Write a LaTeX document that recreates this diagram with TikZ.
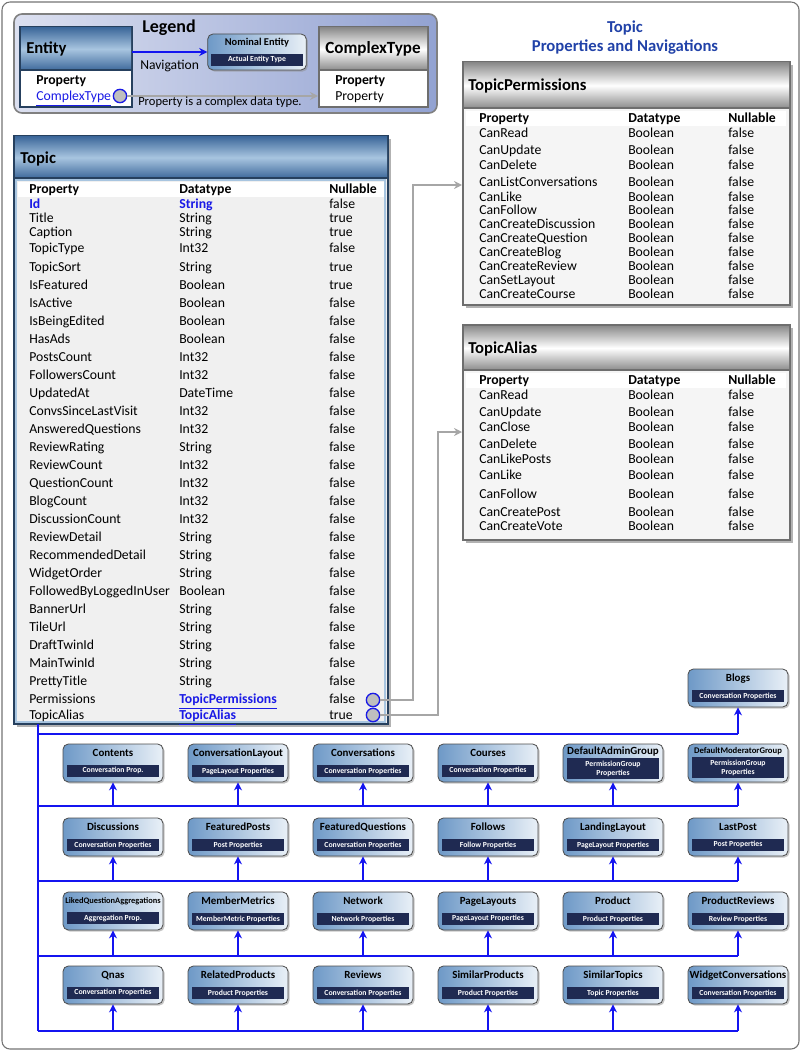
\documentclass[tikz,border=0pt]{standalone}
\usepackage{fontspec}
\setmainfont{Carlito}
\usetikzlibrary{arrows.meta,shadows}

\definecolor{hdrdark}{HTML}{3F6A9C}
\definecolor{hdrlight}{HTML}{A8C5E0}
\definecolor{navy}{HTML}{1F2A52}
\definecolor{boxleft}{HTML}{6E99C7}
\definecolor{boxright}{HTML}{E9F0F7}
\definecolor{busblue}{HTML}{1414F0}
\definecolor{linkblue}{HTML}{1A1AE6}
\definecolor{titleblue}{HTML}{2142A8}
\definecolor{conngray}{HTML}{A6A6A6}
\definecolor{tblborder}{HTML}{6E6E6E}
\definecolor{legleft}{HTML}{DCE0F0}
\definecolor{legright}{HTML}{92A2D2}

% title plus dark type label of a navigation target
\newcommand{\navtext}[2]{{\bfseries\fontsize{8.2}{9.5}\selectfont #1}\\[1.2pt]%
  {\setlength{\fboxsep}{2pt}\colorbox{navy}{\parbox{65pt}{\centering\color{white}\bfseries\fontsize{5.8}{6.8}\selectfont #2}}}}

\begin{document}
\begin{tikzpicture}[x=0.75pt, y=-0.75pt,
  cell/.style={anchor=west, inner sep=0pt, text height=8.8pt, text depth=1.5pt,
    font=\fontsize{10.3}{11}\selectfont},
  headcell/.style={cell, font=\bfseries\fontsize{10.3}{11}\selectfont},
  link/.style={cell, font=\bfseries\fontsize{10.3}{11}\selectfont, text=linkblue},
  tblname/.style={anchor=west, inner sep=0pt, text height=10pt, text depth=1pt,
    font=\bfseries\fontsize{12.5}{14}\selectfont},
  tblline/.style={draw=tblborder, line width=1.2pt},
  blueshade/.style={top color=hdrdark, bottom color=hdrdark, middle color=hdrlight},
  grayshade/.style={top color=black!45, bottom color=black!45, middle color=white},
  navbox/.style={draw=black!70, line width=0.6pt, rounded corners=4pt,
    left color=boxleft, right color=boxright, minimum width=75pt,
    minimum height=28.5pt, inner sep=1pt, align=center,
    drop shadow={shadow xshift=1.2pt, shadow yshift=-1.2pt, fill=black!45}},
  bus/.style={draw=busblue, line width=2.2pt},
  navarrow/.style={draw=busblue, line width=1.6pt, -{Stealth[length=6pt, width=6pt]}},
  conn/.style={draw=conngray, line width=1.8pt, -{Stealth[length=6pt, width=6pt]}},
  anchorcirc/.style={circle, draw=linkblue, line width=1pt, fill=black!25,
    minimum size=10pt, inner sep=0pt}]
  \useasboundingbox (0,0) rectangle (802,1052);
  \draw[black!55, line width=0.8pt, rounded corners=6pt] (2,2) rectangle (799,1049);

  % Legend
  \draw[draw=black!50, line width=1.2pt, rounded corners=6pt, left color=legleft,
    right color=legright] (14,14) rectangle (437,113);
  \draw[draw=hdrdark!60!black, line width=1.2pt, fill=white] (20,27) rectangle (132,107);
  \shade[blueshade] (21,28) rectangle (131,70);
  \draw[draw=hdrdark!60!black, line width=0.8pt] (20,70) -- (132,70);
  \node[tblname] (entityname) at (26,48) {Entity};
  \node[headcell] (entityprop) at (36,80) {Property};
  \node[cell, text=linkblue] (entitylink) at (36,96) {\underline{ComplexType}};
  \node[anchorcirc] (entitycirc) at (120,96) {};
  \node[font=\bfseries\fontsize{13.5}{15}\selectfont] (legendtitle) at (169,28) {Legend};
  \node[navbox, minimum width=74pt, minimum height=27pt] (nominal) at (257,52)
    {\navtext{\fontsize{7.8}{8.5}\selectfont Nominal Entity}{Actual Entity Type}};
  \coordinate (entityeast) at (132,52);
  \draw[navarrow] (entityeast) -- (nominal.west)
    node[midway, below=2pt, font=\fontsize{10.2}{11}\selectfont] (navlabel) {Navigation};
  \draw[tblline, fill=white] (319,27) rectangle (428,107);
  \shade[grayshade] (320,28) rectangle (427,70);
  \draw[tblline, line width=0.8pt] (319,70) -- (428,70);
  \node[tblname, anchor=center, font=\bfseries\fontsize{12.8}{14}\selectfont] (cxname) at (373,48) {ComplexType};
  \node[headcell] (cxprop) at (335,80) {Property};
  \node[cell] (cxprop2) at (335,96) {Property};
  \coordinate (cxwest) at (318,96);
  \draw[conn] (entitycirc.east) -- (cxwest);
  \node[cell, font=\fontsize{9.4}{10}\selectfont] (cxnote) at (138,101) {Property is a complex data type.};

  % Title
  \node[font=\bfseries\fontsize{12.5}{14.25}\selectfont, text=titleblue, align=center]
    (title) at (625,38) {Topic\\Properties and Navigations};

  % Topic table
  \fill[black!30] (17,139) rectangle (391,727);
  \draw[draw=hdrdark!60!black, line width=1.2pt, fill=black!6] (14,136) rectangle (388,724);
  \shade[blueshade] (15,137) rectangle (387,178);
  \draw[draw=hdrdark!60!black, line width=0.8pt] (14,178) -- (388,178);
  \draw[hdrlight, line width=0.8pt] (16,180) rectangle (385,722);
  \fill[white] (18,182) rectangle (384,197);
  \node[tblname] (topicname) at (20,157) {Topic};
  \node[headcell] (tp-head) at (29,189) {Property};
  \node[headcell] (td-head) at (179,189) {Datatype};
  \node[headcell] (tn-head) at (329,189) {Nullable};
  \node[link] (tp-id) at (29,204) {Id};
  \node[link] (td-id) at (179,204) {String};
  \node[cell] (tn-id) at (329,204) {false};
  \foreach \y/\pr/\dt/\nl in {218/Title/String/true, 232/Caption/String/true,
    248/TopicType/Int32/false, 267/TopicSort/String/true, 285/IsFeatured/Boolean/true,
    303/IsActive/Boolean/false, 321/IsBeingEdited/Boolean/false, 339/HasAds/Boolean/false,
    357/PostsCount/Int32/false, 375/FollowersCount/Int32/false, 393/UpdatedAt/DateTime/false,
    411/ConvsSinceLastVisit/Int32/false, 429/AnsweredQuestions/Int32/false,
    447/ReviewRating/String/false, 465/ReviewCount/Int32/false, 483/QuestionCount/Int32/false,
    501/BlogCount/Int32/false, 519/DiscussionCount/Int32/false, 537/ReviewDetail/String/false,
    555/RecommendedDetail/String/false, 573/WidgetOrder/String/false,
    591/FollowedByLoggedInUser/Boolean/false, 609/BannerUrl/String/false,
    627/TileUrl/String/false, 645/DraftTwinId/String/false, 663/MainTwinId/String/false,
    681/PrettyTitle/String/false}
  {
    \node[cell] (tp-\y) at (29,\y) {\pr};
    \node[cell] (td-\y) at (179,\y) {\dt};
    \node[cell] (tn-\y) at (329,\y) {\nl};
  }
  \node[cell] (tp-perm) at (29,699) {Permissions};
  \node[link] (td-perm) at (179,699) {\underline{TopicPermissions}};
  \node[cell] (tn-perm) at (329,699) {false};
  \node[anchorcirc] (permcirc) at (373,700) {};
  \node[cell] (tp-alias) at (29,715) {TopicAlias};
  \node[link] (td-alias) at (179,715) {\underline{TopicAlias}};
  \node[cell] (tn-alias) at (329,715) {true};
  \node[anchorcirc] (aliascirc) at (373,715) {};

  % TopicPermissions table
  \fill[black!30] (466,65) rectangle (793,308);
  \draw[tblline, fill=black!4] (463,62) rectangle (790,305);
  \shade[grayshade] (464,63) rectangle (789,108);
  \draw[tblline, line width=0.8pt] (463,108) -- (790,108);
  \fill[white] (466,111) rectangle (786,126);
  \node[tblname] (permname) at (468,85) {TopicPermissions};
  \node[headcell] (pp-head) at (479,118) {Property};
  \node[headcell] (pd-head) at (628,118) {Datatype};
  \node[headcell] (pn-head) at (728,118) {Nullable};
  \foreach \y/\pr in {133/CanRead, 150/CanUpdate, 165/CanDelete, 182/CanListConversations,
    197/CanLike, 210/CanFollow, 224/CanCreateDiscussion, 238/CanCreateQuestion,
    252/CanCreateBlog, 266/CanCreateReview, 280/CanSetLayout, 294/CanCreateCourse}
  {
    \node[cell] (pp-\y) at (479,\y) {\pr};
    \node[cell] (pd-\y) at (628,\y) {Boolean};
    \node[cell] (pn-\y) at (728,\y) {false};
  }

  % TopicAlias table
  \fill[black!30] (466,328) rectangle (793,543);
  \draw[tblline, fill=black!4] (463,325) rectangle (790,540);
  \shade[grayshade] (464,326) rectangle (789,370);
  \draw[tblline, line width=0.8pt] (463,370) -- (790,370);
  \fill[white] (466,373) rectangle (786,388);
  \node[tblname] (aliasname) at (468,347) {TopicAlias};
  \node[headcell] (ap-head) at (479,380) {Property};
  \node[headcell] (ad-head) at (628,380) {Datatype};
  \node[headcell] (an-head) at (728,380) {Nullable};
  \foreach \y/\pr in {395/CanRead, 412/CanUpdate, 427/CanClose, 444/CanDelete,
    459/CanLikePosts, 475/CanLike, 494/CanFollow, 512/CanCreatePost, 526/CanCreateVote}
  {
    \node[cell] (ap-\y) at (479,\y) {\pr};
    \node[cell] (ad-\y) at (628,\y) {Boolean};
    \node[cell] (an-\y) at (728,\y) {false};
  }

  % complex type links
  \coordinate (permbend) at (413,185);
  \coordinate (permin) at (462,185);
  \coordinate (aliasbend) at (438,432);
  \coordinate (aliasin) at (462,432);
  \draw[conn] (permcirc.east) -| (permbend) -- (permin);
  \draw[conn] (aliascirc.east) -| (aliasbend) -- (aliasin);

  % Navigation bus
  \coordinate (topicfoot) at (38,724);
  \coordinate (bus0) at (38,734);
  \coordinate (bus1) at (38,806);
  \coordinate (bus2) at (38,881);
  \coordinate (bus3) at (38,956);
  \coordinate (bus4) at (38,1031);
  \node[navbox] (blogs) at (738,688) {\navtext{Blogs}{Conversation Properties}};
  \draw[bus] (topicfoot) -- (bus4);
  \foreach \r in {0,...,4}
    \draw[bus] (bus\r) -- (738,0 |- bus\r);
  \draw[navarrow] (blogs.south |- bus0) -- (blogs.south);
  \foreach \nm/\x/\y/\r/\ttl/\lab in {
    contents/113/763/1/Contents/Conversation Prop.,
    convlayout/238/763/1/ConversationLayout/PageLayout Properties,
    conversations/363/763/1/Conversations/Conversation Properties,
    courses/488/763/1/Courses/Conversation Properties,
    defadmin/613/763/1/DefaultAdminGroup/{PermissionGroup\\Properties},
    defmod/738/763/1/{\fontsize{6.5}{7.5}\selectfont DefaultModeratorGroup}/{PermissionGroup\\Properties},
    discussions/113/837/2/Discussions/Conversation Properties,
    featposts/238/837/2/FeaturedPosts/Post Properties,
    featquestions/363/837/2/FeaturedQuestions/Conversation Properties,
    follows/488/837/2/Follows/Follow Properties,
    landing/613/837/2/LandingLayout/PageLayout Properties,
    lastpost/738/837/2/LastPost/Post Properties,
    likedagg/113/911/3/{\fontsize{6.3}{7.5}\selectfont LikedQuestionAggregations}/Aggregation Prop.,
    membermetrics/238/911/3/MemberMetrics/MemberMetric Properties,
    network/363/911/3/Network/Network Properties,
    pagelayouts/488/911/3/PageLayouts/PageLayout Properties,
    product/613/911/3/Product/Product Properties,
    prodreviews/738/911/3/ProductReviews/Review Properties,
    qnas/113/985/4/Qnas/Conversation Properties,
    relproducts/238/985/4/RelatedProducts/Product Properties,
    reviews/363/985/4/Reviews/Conversation Properties,
    simproducts/488/985/4/SimilarProducts/Product Properties,
    simtopics/613/985/4/SimilarTopics/Topic Properties,
    widgetconv/738/985/4/WidgetConversations/Conversation Properties}
  {
    \node[navbox] (\nm) at (\x,\y) {\navtext{\ttl}{\lab}};
    \draw[navarrow] (\nm.south |- bus\r) -- (\nm.south);
  }
\end{tikzpicture}
\end{document}
